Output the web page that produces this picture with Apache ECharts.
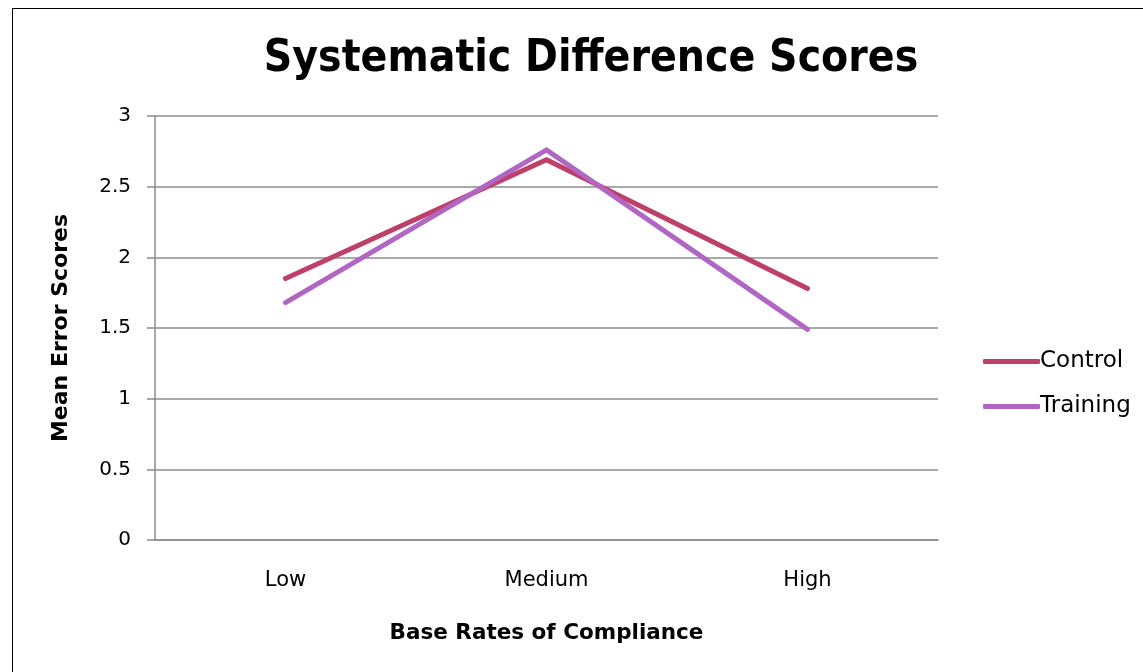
<!DOCTYPE html>
<html><head><meta charset="utf-8">
<script src="https://cdn.jsdelivr.net/npm/echarts@6/dist/echarts.min.js"></script>
<style>html,body{margin:0;padding:0;background:#fff}#c{width:1143px;height:672px}
#frame{position:absolute;left:12px;top:8px;width:1140px;height:680px;border:1.5px solid #000;box-sizing:border-box;pointer-events:none}</style>
</head><body><div id="c"></div><div id="frame"></div>
<script>
const categories = ['Low', 'Medium', 'High'];
const controlValues = [1.85, 2.69, 1.78];
const trainingValues = [1.68, 2.76, 1.49];
const yTicks = [0, 0.5, 1, 1.5, 2, 2.5, 3];
const TFONT = 'DejaVu Sans Condensed';
const FONT = 'DejaVu Sans';
const chart = echarts.init(document.getElementById('c'));
chart.setOption({
  animation: false,
  title: { text: 'Systematic Difference Scores', left: 586, top: 33, textAlign: 'center',
    textStyle: { fontFamily: TFONT, fontSize: 44, fontWeight: 'bold', color: '#000' } },
  grid: { left: 155, right: 205, top: 116, bottom: 132 },
  legend: { orient: 'vertical', left: 978, top: 345, itemWidth: 57, itemHeight: 5, itemGap: 22,
    icon: 'roundRect', textStyle: { fontFamily: FONT, fontSize: 23, color: '#000', padding: [0,0,0,-5] },
    data: ['Control', 'Training'] },
  xAxis: { type: 'category', data: categories, boundaryGap: true,
    name: 'Base Rates of Compliance', nameLocation: 'middle', nameGap: 82,
    nameTextStyle: { fontFamily: FONT, fontSize: 21.5, fontWeight: 'bold', color: '#000' },
    axisLine: { lineStyle: { color: '#8c8c8c', width: 1.5 } }, axisTick: { show: false },
    axisLabel: { fontFamily: FONT, fontSize: 21, color: '#000', margin: 30 } },
  yAxis: { type: 'value', min: 0, max: 3, interval: 0.5,
    name: 'Mean Error Scores', nameLocation: 'middle', nameGap: 83, nameRotate: 90,
    nameTextStyle: { fontFamily: FONT, fontSize: 22, fontWeight: 'bold', color: '#000' },
    axisLine: { show: true, lineStyle: { color: '#8c8c8c', width: 1.5 } },
    axisTick: { show: true, length: 8, lineStyle: { color: '#8c8c8c', width: 1.5 } },
    splitLine: { lineStyle: { color: '#8c8c8c', width: 1.5 } },
    axisLabel: { fontFamily: FONT, fontSize: 20, color: '#000', margin: 24, padding: [4, 0, 0, 0],
      formatter: v => yTicks.includes(v) ? String(v) : '' } },
  series: [
    { name: 'Control', type: 'line', data: controlValues, showSymbol: false, symbol: 'none',
      lineStyle: { color: '#be4068', width: 5, cap: 'round', join: 'miter' }, itemStyle: { color: '#be4068' } },
    { name: 'Training', type: 'line', data: trainingValues, showSymbol: false, symbol: 'none',
      lineStyle: { color: '#b066c2', width: 5, cap: 'round', join: 'miter' }, itemStyle: { color: '#b066c2' } }
  ]
});
</script></body></html>
